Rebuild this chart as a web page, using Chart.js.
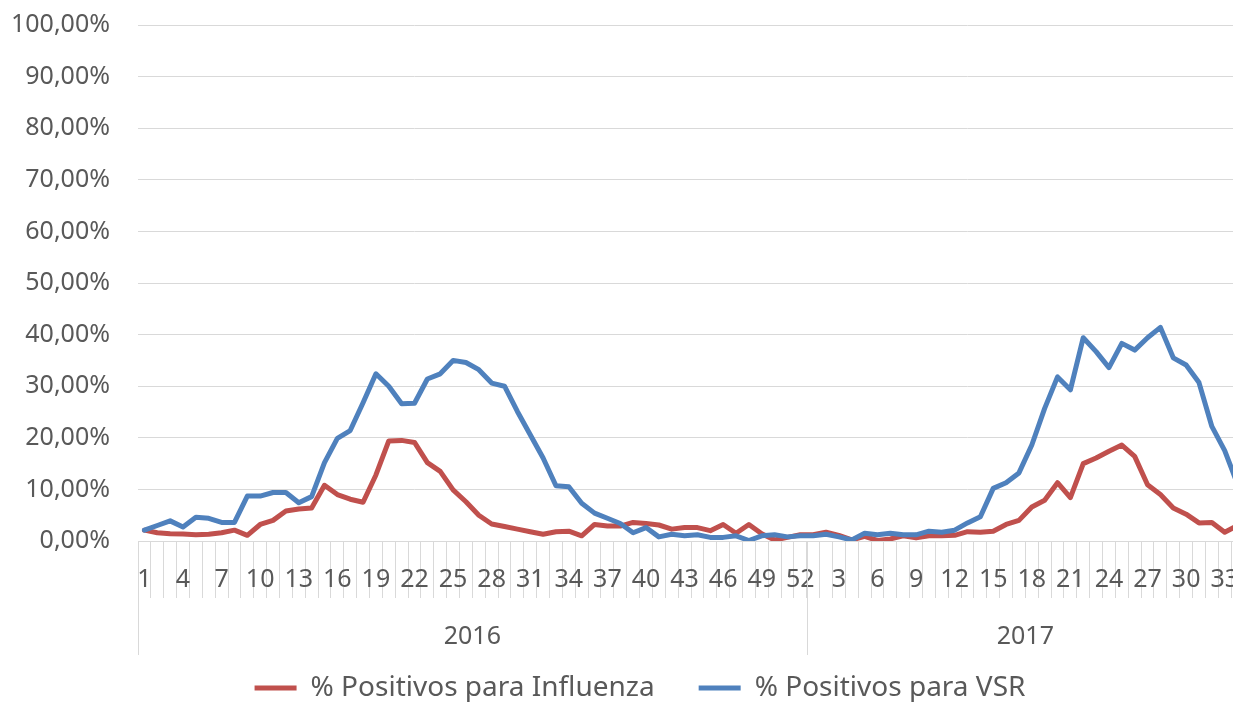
<!DOCTYPE html>
<html lang="es">
<head>
<meta charset="utf-8">
<title>% Positivos para Influenza y VSR</title>
<script src="https://cdn.jsdelivr.net/npm/chart.js@4.4.1/dist/chart.umd.min.js"></script>
<style>
    html, body { margin: 0; padding: 0; background: #ffffff; }
    #frame { width: 1233px; height: 702px; overflow: hidden; position: relative; }
    #myChart { display: block; }
</style>
</head>
<body>
<div id="frame">
    <canvas id="myChart" width="1280" height="712"></canvas>
</div>
<script>
// Semanas epidemiológicas (2016: 1-52, 2017: 1-34)
const weeks2016 = [1, 2, 3, 4, 5, 6, 7, 8, 9, 10, 11, 12, 13, 14, 15, 16, 17, 18, 19, 20, 21, 22, 23, 24, 25, 26,
    27, 28, 29, 30, 31, 32, 33, 34, 35, 36, 37, 38, 39, 40, 41, 42, 43, 44, 45, 46, 47, 48, 49, 50, 51, 52];
const weeks2017 = [1, 2, 3, 4, 5, 6, 7, 8, 9, 10, 11, 12, 13, 14, 15, 16, 17,
    18, 19, 20, 21, 22, 23, 24, 25, 26, 27, 28, 29, 30, 31, 32, 33, 34];
const years = ['2016', '2017'];

// % positivos
const influenza2016 = [2.1, 1.6, 1.4, 1.35, 1.2, 1.3, 1.6, 2.1, 1.1, 3.2, 4.0, 5.8, 6.2, 6.4, 10.8, 9.0, 8.1, 7.5,
    12.8, 19.4, 19.5, 19.1, 15.2, 13.5, 9.9, 7.6, 5.0, 3.3, 2.8, 2.3, 1.8, 1.3, 1.8, 1.9, 1.0, 3.2, 2.9, 2.9,
    3.6, 3.4, 3.1, 2.3, 2.6, 2.6, 2.0, 3.2, 1.5, 3.2, 1.4, 0.2, 0.7, 1.2];
const influenza2017 = [1.2, 1.7, 1.1, 0.2, 0.9, 0.1, 0.4, 1.0, 0.6, 1.0, 1.0, 1.1, 1.8, 1.7, 1.9, 3.2, 4.0,
    6.6, 7.9, 11.3, 8.4, 15.0, 16.1, 17.4, 18.6, 16.4, 10.9, 9.0, 6.4, 5.2, 3.5, 3.6, 1.7, 3.0];
const vsr2016 = [2.1, 3.0, 3.9, 2.7, 4.6, 4.4, 3.6, 3.6, 8.7, 8.7, 9.4, 9.4, 7.4, 8.6, 15.2, 19.9, 21.4, 26.8,
    32.4, 30.0, 26.6, 26.7, 31.4, 32.4, 35.0, 34.6, 33.2, 30.6, 30.0, 25.1, 20.6, 16.1, 10.7, 10.5, 7.3, 5.4,
    4.4, 3.4, 1.6, 2.6, 0.8, 1.3, 1.0, 1.2, 0.7, 0.7, 1.0, 0.1, 1.0, 1.2, 0.8, 1.0];
const vsr2017 = [1.0, 1.3, 0.8, 0.2, 1.5, 1.2, 1.5, 1.2, 1.2, 1.9, 1.7, 2.1, 3.5, 4.7, 10.2, 11.3, 13.2,
    18.6, 25.7, 31.8, 29.3, 39.4, 36.7, 33.6, 38.3, 37.0, 39.4, 41.4, 35.5, 34.1, 30.7, 22.2, 17.5, 11.0];

const yTicks = [0, 10, 20, 30, 40, 50, 60, 70, 80, 90, 100];

const weekLabels = weeks2016.concat(weeks2017).map(String);
const yearSizes = [weeks2016.length, weeks2017.length];

const textColor = '#595959';
const gridColor = '#D9D9D9';
const fontFamily = "'Noto Sans', 'Open Sans', sans-serif";

Chart.defaults.font.family = fontFamily;
Chart.defaults.color = textColor;

// Segundo nivel del eje X (años) con sus separadores
const yearAxisPlugin = {
    id: 'yearAxis',
    afterLayout(chart) {
        // centrar la leyenda como en el original (lienzo más ancho que el recorte)
        chart.legend.left += 13;
        chart.legend.right += 13;
    },
    afterDraw(chart) {
        const scale = chart.scales.x;
        const ctx = chart.ctx;
        const catW = scale.width / weekLabels.length;
        ctx.save();
        ctx.strokeStyle = gridColor;
        ctx.lineWidth = 1;
        ctx.fillStyle = textColor;
        ctx.font = '25px ' + fontFamily;
        ctx.textAlign = 'center';
        ctx.textBaseline = 'middle';
        let start = 0;
        years.forEach((year, i) => {
            const x0 = scale.getPixelForValue(start) - catW / 2;
            const x1 = scale.getPixelForValue(start + yearSizes[i] - 1) + catW / 2;
            [x0, x1].forEach(x => {
                const px = Math.round(x) + 0.5;
                ctx.beginPath();
                ctx.moveTo(px, scale.top);
                ctx.lineTo(px, scale.top + 114);
                ctx.stroke();
            });
            ctx.fillText(year, (x0 + x1) / 2, scale.top + 96);
            start += yearSizes[i];
        });
        ctx.restore();
    }
};

const ctx = document.getElementById('myChart').getContext('2d');
new Chart(ctx, {
    type: 'line',
    data: {
        labels: weekLabels,
        datasets: [{
            label: '% Positivos para Influenza',
            data: influenza2016.concat(influenza2017),
            borderColor: '#C0504D',
            backgroundColor: '#C0504D',
            borderWidth: 5,
            borderCapStyle: 'round',
            borderJoinStyle: 'round',
            pointRadius: 0,
            tension: 0,
            order: 2
        }, {
            label: '% Positivos para VSR',
            data: vsr2016.concat(vsr2017),
            borderColor: '#4F81BD',
            backgroundColor: '#4F81BD',
            borderWidth: 5,
            borderCapStyle: 'round',
            borderJoinStyle: 'round',
            pointRadius: 0,
            tension: 0,
            order: 1
        }]
    },
    options: {
        responsive: false,
        animation: false,
        layout: { padding: { top: 25, left: 10, right: 36, bottom: 0 } },
        plugins: {
            tooltip: { enabled: false },
            legend: {
                position: 'bottom',
                labels: {
                    usePointStyle: true,
                    pointStyle: 'line',
                    pointStyleWidth: 42,
                    padding: 44,
                    color: textColor,
                    font: { size: 28 },
                    sort: (a, b) => a.datasetIndex - b.datasetIndex
                }
            }
        },
        scales: {
            x: {
                offset: true,
                border: { display: true, color: gridColor, width: 1 },
                grid: {
                    offset: true,
                    drawOnChartArea: false,
                    drawTicks: true,
                    tickLength: 57,
                    color: gridColor
                },
                ticks: {
                    autoSkip: false,
                    maxRotation: 0,
                    padding: -33,
                    color: textColor,
                    font: { size: 25 },
                    callback: (value, index) => index % 3 === 0 ? weekLabels[index] : ''
                },
                afterFit: (scale) => { scale.height = 89; }
            },
            y: {
                min: 0,
                max: 100,
                border: { display: false },
                grid: { color: gridColor, drawTicks: false },
                afterBuildTicks: (scale) => { scale.ticks = yTicks.map(v => ({ value: v })); },
                ticks: {
                    padding: 28,
                    color: textColor,
                    font: { size: 25 },
                    callback: (value) => value.toFixed(2).replace('.', ',') + '%'
                },
                afterFit: (scale) => {
                    scale.width = 128;
                    scale.paddingTop = 0;
                    scale.paddingBottom = 0;
                }
            }
        }
    },
    plugins: [yearAxisPlugin]
});
</script>
</body>
</html>
